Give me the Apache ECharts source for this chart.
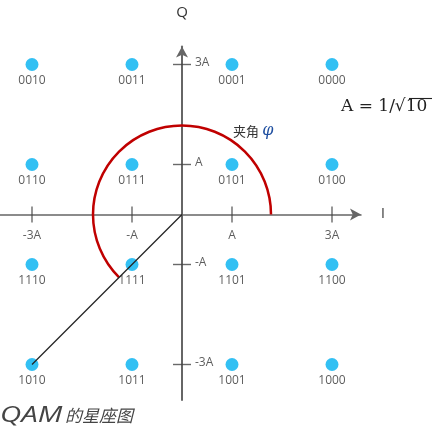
<!DOCTYPE html>
<html><head><meta charset="utf-8">
<script src="https://cdn.jsdelivr.net/npm/echarts@6/dist/echarts.min.js"></script>
<style>html,body{margin:0;padding:0;background:#fff}#c{width:437px;height:434px}</style>
</head><body><div id="c"></div>
<script>
// amplitude levels (in units of A) and their tick labels
const levels = [-3, -1, 1, 3];
const tickLabels = ['-3A', '-A', 'A', '3A'];
// 16-QAM constellation: I, Q, bit label
const symbolsI = [-3, -1, 1, 3, -3, -1, 1, 3, -3, -1, 1, 3, -3, -1, 1, 3];
const symbolsQ = [3, 3, 3, 3, 1, 1, 1, 1, -1, -1, -1, -1, -3, -3, -3, -3];
const bitLabels = ['0010','0011','0001','0000','0110','0111','0101','0100',
                   '1110','1111','1101','1100','1010','1011','1001','1000'];
// vector from origin to 1010
const vectorLine = [[0, 0], [-3, -3]];
// phase-angle arc: cx, cy, radius (units of A), start deg, end deg
const angleArc = [[0, 0, 1.78, 0, 225]];

const labelOf = v => tickLabels[levels.indexOf(v)];
const font = "'Open Sans', sans-serif";

const chart = echarts.init(document.getElementById('c'), null, {renderer: 'canvas'});
chart.setOption({
  animation: false,
  backgroundColor: '#fff',
  grid: {left: 0, right: 76, top: 46.5, bottom: 34},
  xAxis: {
    type: 'value', min: -3.64, max: 3.58,
    name: 'I', nameLocation: 'end', nameGap: 20,
    nameTextStyle: {fontSize: 14, color: '#333', fontFamily: font, padding: [0, 0, 10, 0]},
    axisLine: {onZero: true, lineStyle: {color: '#666', width: 1.5}, symbol: ['none', 'arrow'], symbolSize: [9, 11]},
    axisTick: {show: false},
    splitLine: {show: false},
    axisLabel: {show: false}
  },
  yAxis: {
    type: 'value', min: -3.71, max: 3.36,
    name: 'Q', nameLocation: 'end', nameGap: 26,
    nameTextStyle: {fontSize: 15, color: '#333', fontFamily: font},
    axisLine: {onZero: true, lineStyle: {color: '#666', width: 2}, symbol: ['none', 'arrow'], symbolSize: [9, 11]},
    axisTick: {show: false},
    splitLine: {show: false},
    axisLabel: {show: false}
  },
  series: [
    {
      type: 'scatter', symbol: 'rect', symbolSize: [1.4, 16], silent: true,
      itemStyle: {color: '#444'}, data: levels.map(v => [v, 0]), z: 3,
      label: {show: true, position: 'bottom', distance: 7, formatter: p => labelOf(p.data[0]),
              fontSize: 12, color: '#333', fontFamily: font}
    },
    {
      type: 'scatter', symbol: 'rect', symbolSize: [18, 1.4], silent: true,
      itemStyle: {color: '#444'}, data: levels.map(v => [0, v]), z: 3,
      label: {show: true, position: 'right', distance: 4, offset: [0, -2], formatter: p => labelOf(p.data[1]),
              fontSize: 12, color: '#333', fontFamily: font}
    },
    {
      type: 'scatter', symbolSize: 13, itemStyle: {color: '#00b0f0'},
      data: symbolsI.map((x, i) => [x, symbolsQ[i], bitLabels[i]]),
      label: {show: true, position: 'bottom', distance: 4, formatter: p => p.data[2],
              fontSize: 12, color: '#333', fontFamily: font},
      z: 4
    },
    {
      type: 'custom', coordinateSystem: 'cartesian2d', data: angleArc, encode: {x: 0, y: 1},
      renderItem: (params, api) => {
        const c = api.coord([api.value(0), api.value(1)]);
        const r = api.size([api.value(2), 0])[0];
        return {
          type: 'arc',
          shape: {cx: c[0], cy: c[1], r: r,
                  startAngle: -api.value(3) * Math.PI / 180,
                  endAngle: -api.value(4) * Math.PI / 180, clockwise: false},
          style: {stroke: '#c00000', lineWidth: 2.5, fill: null}
        };
      },
      z: 5
    },
    {
      type: 'line', data: vectorLine, symbol: 'none',
      lineStyle: {color: '#222', width: 1.2}, z: 6
    }
  ],
  graphic: [
    {type: 'text', left: 233, top: 123, z: 10, style: {
      text: '{a|夹角} {b|φ}',
      rich: {
        a: {fontSize: 13, fill: '#333', fontFamily: "'Noto Sans CJK SC', sans-serif"},
        b: {fontSize: 16, fill: '#1f4fa0', fontStyle: 'italic', fontFamily: "'DejaVu Serif', serif"}
      }
    }},
    {type: 'text', x: 341, y: 107, z: 10, style: {
      text: 'A = 1/√10', fontSize: 17, fill: '#222', verticalAlign: 'middle',
      fontFamily: "'DejaVu Serif', serif"
    }},
    {type: 'line', shape: {x1: 409, y1: 98.5, x2: 432, y2: 98.5}, z: 10, style: {stroke: '#222', lineWidth: 1.1}},
    {type: 'text', x: 0, y: 416, scaleX: 1.4, z: 10, style: {
      text: 'QAM', fontSize: 21, fill: '#444', fontStyle: 'italic', verticalAlign: 'middle', fontFamily: font
    }},
    {type: 'text', x: 65, y: 416, z: 10, style: {
      text: '的星座图', fontSize: 17, fill: '#444', fontStyle: 'italic', verticalAlign: 'middle',
      fontFamily: "'Noto Sans CJK SC', sans-serif"
    }}
  ]
});
</script></body></html>
